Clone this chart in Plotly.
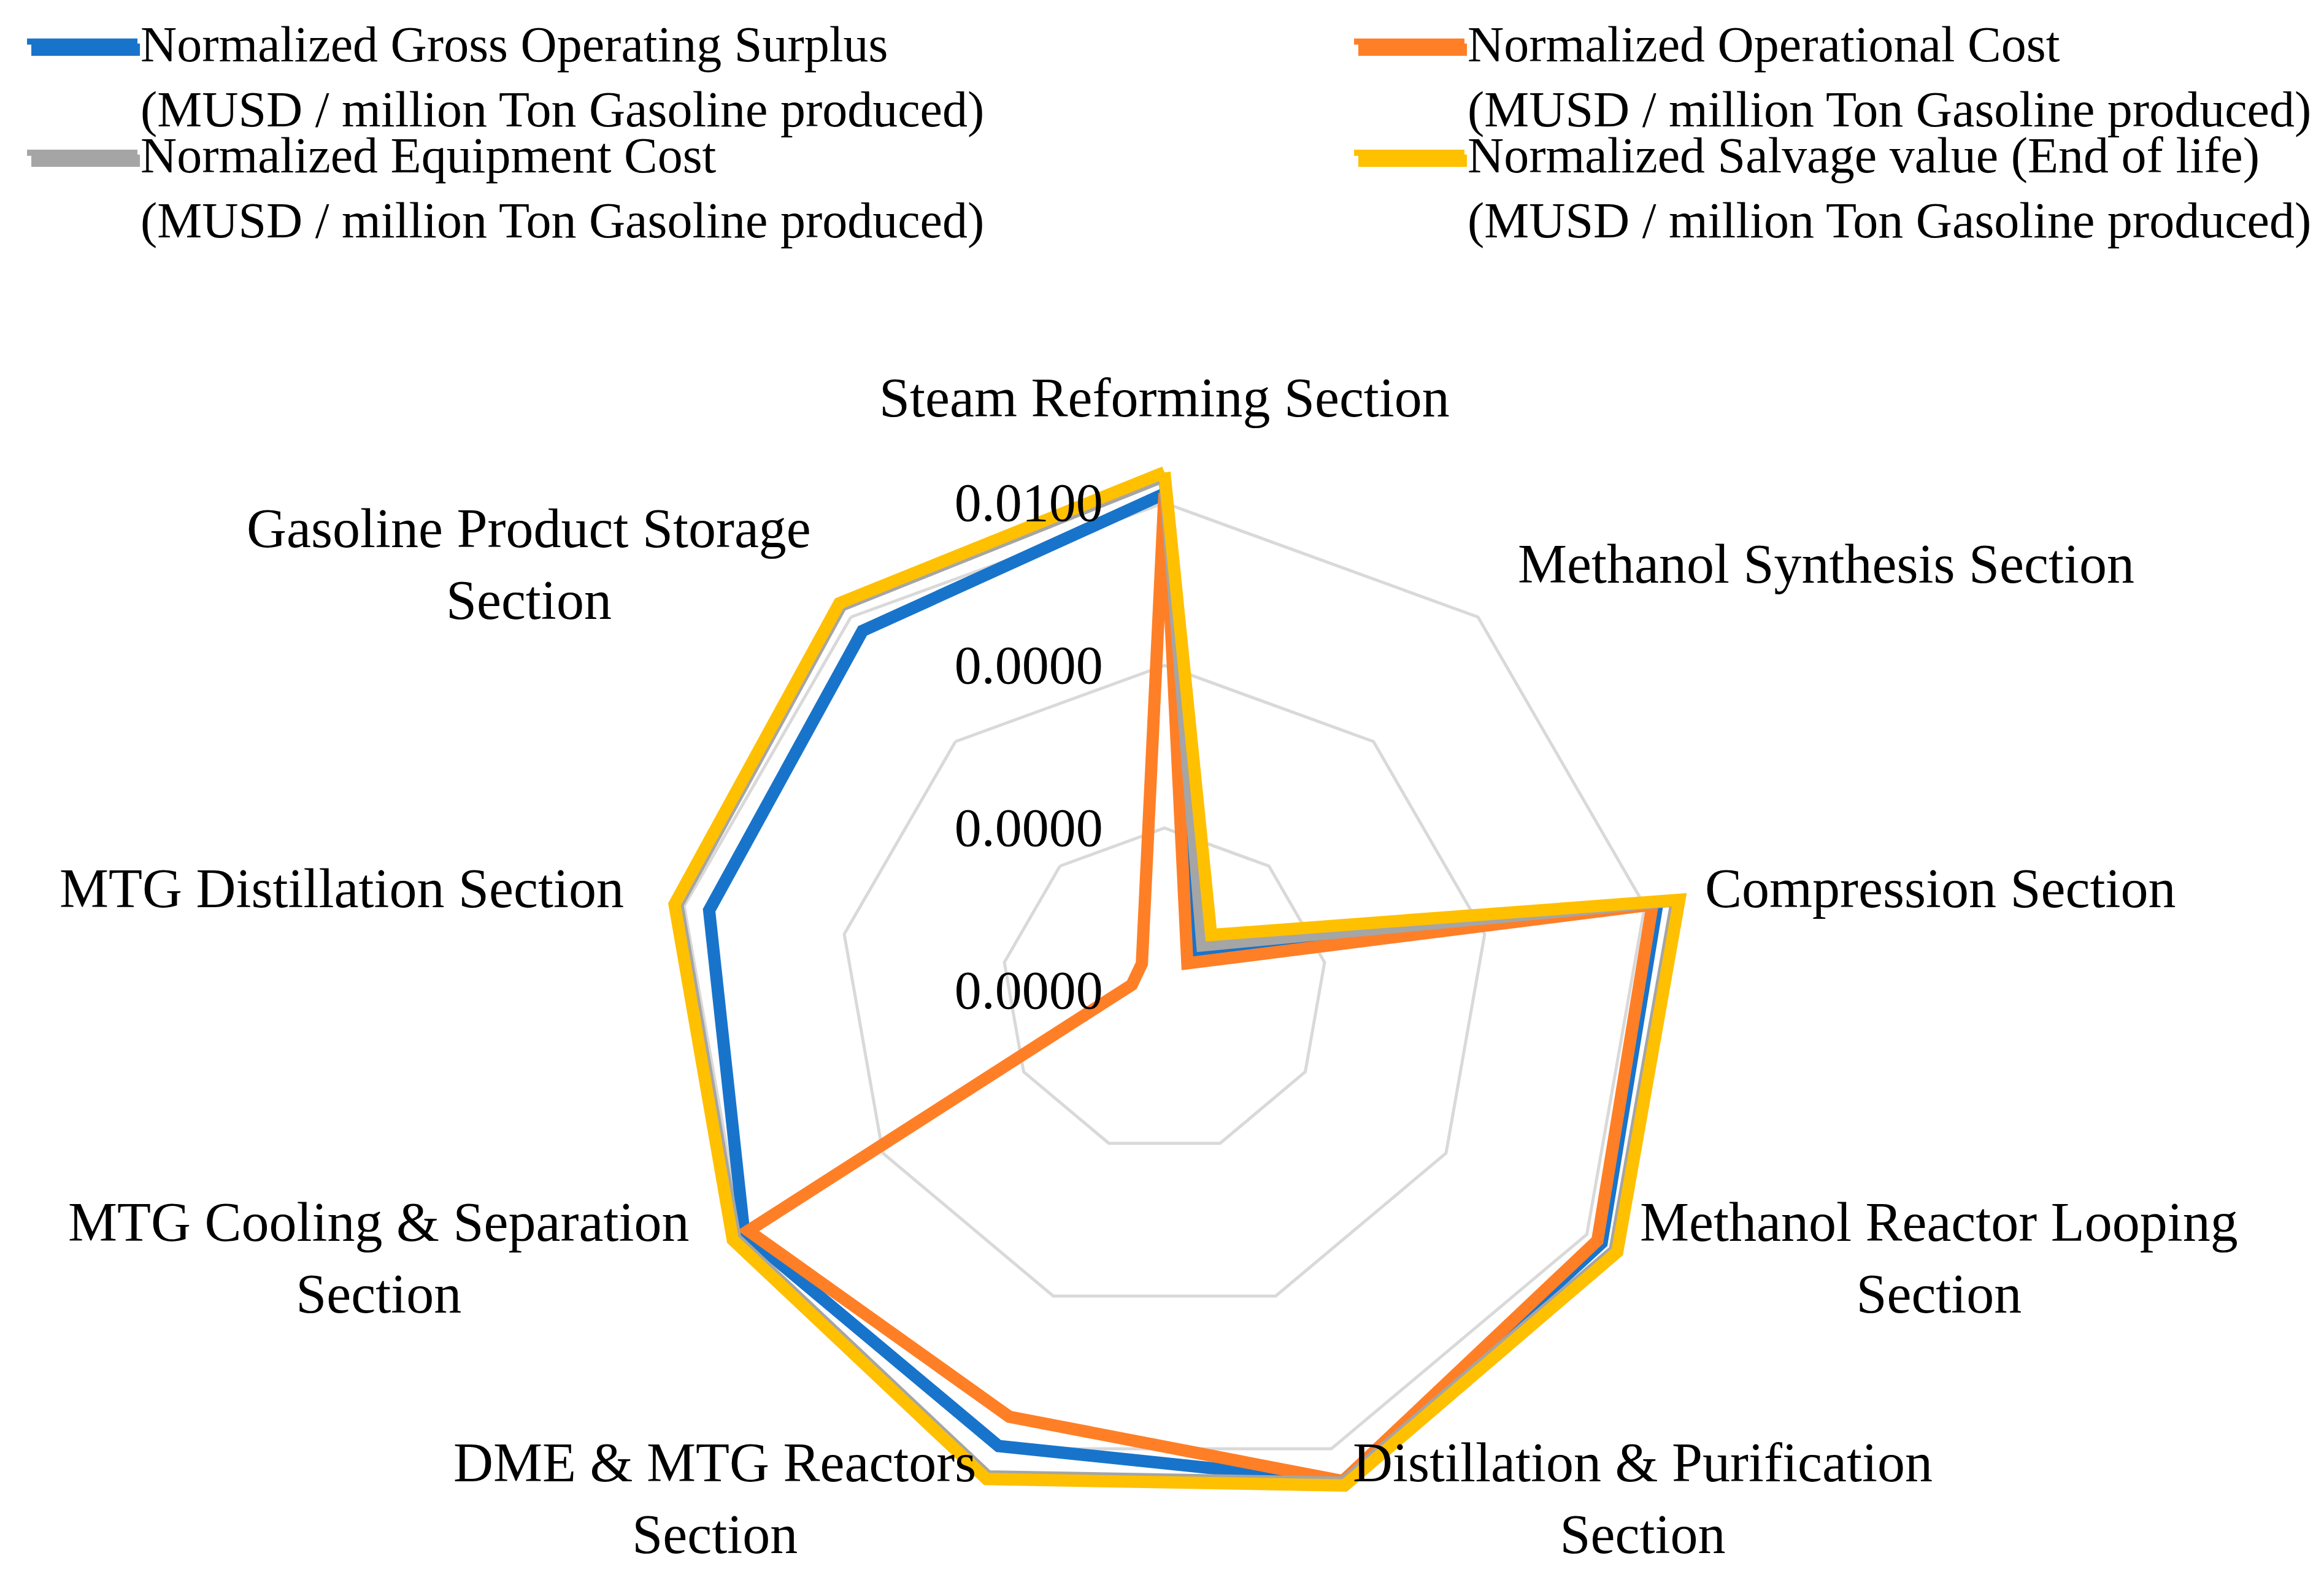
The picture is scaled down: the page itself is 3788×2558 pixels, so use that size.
import math
import plotly.graph_objects as go

# ---------------- data ----------------
categories = [
    "Steam Reforming Section",
    "Methanol Synthesis Section",
    "Compression Section",
    "Methanol Reactor Looping Section",
    "Distillation & Purification Section",
    "DME & MTG Reactors Section",
    "MTG Cooling & Separation Section",
    "MTG Distillation Section",
    "Gasoline Product Storage Section",
]
category_labels = [
    "Steam Reforming Section",
    "Methanol Synthesis Section",
    "Compression Section",
    "Methanol Reactor Looping<br>Section",
    "Distillation & Purification<br>Section",
    "DME & MTG Reactors<br>Section",
    "MTG Cooling & Separation<br>Section",
    "MTG Distillation Section",
    "Gasoline Product Storage<br>Section",
]

series_names = [
    "Normalized Gross Operating Surplus<br>(MUSD / million Ton Gasoline produced)",
    "Normalized Operational Cost<br>(MUSD / million Ton Gasoline produced)",
    "Normalized Equipment Cost<br>(MUSD / million Ton Gasoline produced)",
    "Normalized Salvage value (End of life)<br>(MUSD / million Ton Gasoline produced)",
]

gross_operating_surplus = [0.01483, 8.81e-11, 0.01714, 0.02065, 0.04446, 0.00883, 0.00902, 0.00340, 0.00465]
operational_cost = [0.01514, 4.54e-11, 0.01393, 0.01679, 0.04300, 0.002344, 0.00733, 4.09e-11, 4.45e-11]
equipment_cost = [0.03126, 1.23e-10, 0.03926, 0.03926, 0.04634, 0.03467, 0.01393, 0.01337, 0.01901]
salvage_value = [0.03690, 2.19e-10, 0.04446, 0.04446, 0.05248, 0.03926, 0.01578, 0.01514, 0.02153]

tick_values = [1e-11, 1e-8, 1e-5, 1e-2]
tick_labels = ["0.0000", "0.0000", "0.0000", "0.0100"]

colors = ["#1874CB", "#FF7F27", "#A5A5A5", "#FFC000"]
all_series = [gross_operating_surplus, operational_cost, equipment_cost, salvage_value]

# ---------------- figure ----------------
W, H = 3788, 2558
FONT = "Liberation Serif"
cx, cy, R = 1890, 1607, 880      # polar centre and edge radius (px)
R_TOP = 795                      # radius of the 0.0100 ring (px)

legend_keys = ["legend", "legend2", "legend3", "legend4"]
legend_pos = [(0.0082, 1.0), (0.5792, 1.0), (0.0082, 0.9292), (0.5792, 0.9292)]

fig = go.Figure()
for name, vals, col, lg in zip(series_names, all_series, colors, legend_keys):
    fig.add_trace(go.Scatterpolar(
        r=vals + vals[:1],
        theta=categories + categories[:1],
        mode="lines",
        name=name,
        line=dict(color=col, width=20),
        cliponaxis=False,
        legend=lg,
    ))

legend_common = dict(
    orientation="v",
    xanchor="left", yanchor="top",
    font=dict(family=FONT, size=82, color="black"),
    itemwidth=180,
    valign="top",
    bgcolor="rgba(0,0,0,0)",
)
legends = {}
for lg, (lx, ly) in zip(legend_keys, legend_pos):
    legends[lg] = dict(legend_common, x=lx, y=ly)

# thicker legend keys drawn under plotly's (width-capped) legend lines
shapes = []
for col, (lx, ly) in zip(colors, legend_pos):
    x0 = lx * W + 12
    yk = (1 - ly) * H + 73
    shapes.append(dict(
        type="line", xref="paper", yref="paper",
        x0=x0 / W, x1=(x0 + 177) / W, y0=1 - yk / H, y1=1 - yk / H,
        line=dict(color=col, width=20), layer="above",
    ))

# category labels placed around the chart, near edge at a fixed distance
annotations = []
n = len(categories)
for i, lab in enumerate(category_labels):
    ang = math.radians(360.0 * i / n)
    s, c = math.sin(ang), math.cos(ang)
    if abs(s) < 0.01:
        d = 915
        xa, ya = "center", "bottom"
        dy = 0
    else:
        d = 893
        xa = "left" if s > 0 else "right"
        ya = "middle"
        dy = -11
    px = cx + d * s
    py = cy - d * c + dy
    annotations.append(dict(
        x=px / W, y=1 - py / H, xref="paper", yref="paper",
        text=lab, showarrow=False, xanchor=xa, yanchor=ya, align="center",
        font=dict(family=FONT, size=90, color="black"),
    ))

fig.update_layout(
    width=W, height=H,
    margin=dict(l=0, r=0, t=0, b=0),
    paper_bgcolor="white",
    plot_bgcolor="white",
    font=dict(family=FONT, size=84, color="black"),
    showlegend=True,
    annotations=annotations,
    shapes=shapes,
    polar=dict(
        domain=dict(x=[(cx - R) / W, (cx + R) / W], y=[(H - cy - R) / H, (H - cy + R) / H]),
        bgcolor="white",
        gridshape="linear",
        radialaxis=dict(
            type="log",
            range=[-11, -11 + 9 * R / R_TOP],
            tickvals=tick_values,
            ticktext=tick_labels,
            angle=90,
            tickangle=90,
            side="counterclockwise",
            showline=False,
            showgrid=True,
            gridcolor="#D9D9D9",
            gridwidth=5,
            ticks="outside",
            ticklen=69,
            tickcolor="rgba(0,0,0,0)",
            tickfont=dict(family=FONT, size=88, color="black"),
        ),
        angularaxis=dict(
            type="category",
            direction="clockwise",
            rotation=90,
            showgrid=False,
            showline=False,
            showticklabels=False,
            ticks="",
        ),
    ),
    **legends,
)

fig.write_html("out.html")
